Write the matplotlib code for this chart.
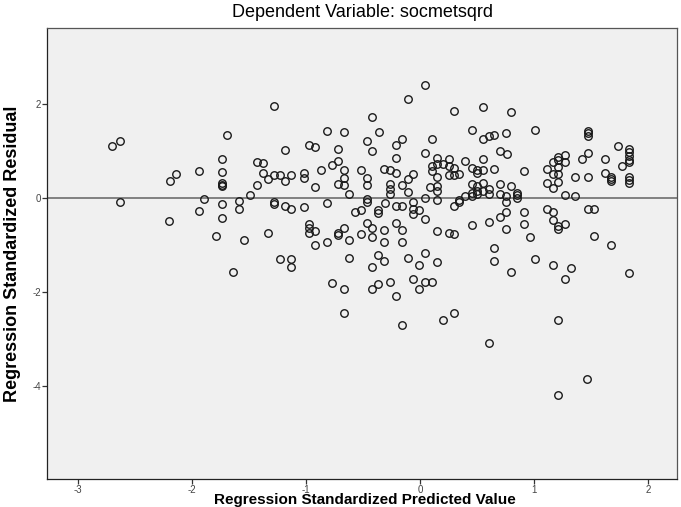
import matplotlib
matplotlib.use("Agg")
import matplotlib.pyplot as plt

# ── Data: standardized predicted value vs standardized residual ──────────
# left block (pred < -1)
pred_left = [-2.70, -2.63, -2.63, -2.19, -2.14, -2.20, -1.94, -1.89, -1.94,
             -1.74, -1.74, -1.74, -1.74, -1.74, -1.74, -1.74, -1.79, -1.69,
             -1.28, -1.59, -1.59, -1.49, -1.43, -1.43, -1.38, -1.38, -1.33,
             -1.28, -1.28, -1.28, -1.23, -1.18, -1.18, -1.18, -1.13, -1.13,
             -1.02, -1.02, -1.02, -1.33, -1.54, -1.23, -1.13, -1.13, -1.64]
resid_left = [1.12, 1.21, -0.08, 0.37, 0.51, -0.48, 0.58, -0.02, -0.27,
              0.83, 0.56, 0.33, 0.29, 0.25, -0.13, -0.42, -0.81, 1.35,
              1.97, -0.06, -0.22, 0.07, 0.28, 0.78, 0.74, 0.54, 0.40,
              0.49, -0.08, -0.13, 0.49, 1.02, 0.37, -0.16, 0.49, -0.22,
              0.54, 0.44, -0.18, -0.74, -0.89, -1.29, -1.29, -1.47, -1.56]

# middle block (-1 <= pred < 0.35)
pred_mid = [-0.97, -0.92, -0.92, -0.87, -0.82, -0.82, -0.77, -0.72, -0.72,
            -0.72, -0.97, -0.97, -0.97, -0.92, -0.72, -0.72, -0.82, -0.92,
            -0.77, 0.04, -0.11, 0.30, -0.42, -0.67, -0.36, -0.47, -0.16,
            -0.21, 0.10, -0.42, 0.04, -0.21, -0.67, -0.52, -0.32, -0.26,
            -0.21, 0.15, 0.10, 0.15, 0.20, 0.25, 0.25, 0.30, 0.25, 0.30,
            0.10, 0.15, -0.06, -0.11, -0.16, -0.47, -0.47, -0.67, -0.67,
            -0.26, -0.26, -0.26, -0.11, -0.62, 0.09, 0.15, 0.15, 0.04, 0.15,
            -0.47, -0.47, -0.31, -0.21, -0.16, -0.06, -0.06, -0.06, -0.01,
            0.30, 0.34, -0.57, -0.52, -0.37, -0.37, 0.04, -0.67, -0.47,
            -0.42, -0.52, -0.42, -0.32, -0.21, -0.16, 0.15, 0.25, 0.30,
            -0.62, -0.32, -0.16, -0.62, -0.37, -0.32, -0.42, -0.11, 0.04,
            -0.01, 0.15, -0.67, -0.42, -0.37, -0.26, -0.06, 0.04, 0.10,
            -0.01, -0.21, -0.67, -0.16, 0.20, 0.30, 0.34]
resid_mid = [1.14, 1.09, 0.23, 0.60, 1.42, -0.11, 0.70, 1.05, 0.79,
             0.30, -0.54, -0.63, -0.73, -0.69, -0.73, -0.78, -0.94, -0.99,
             -1.80, 2.41, 2.11, 1.86, 1.73, 1.40, 1.40, 1.21, 1.26,
             1.13, 1.26, 1.00, 0.97, 0.86, 0.61, 0.61, 0.63, 0.59,
             0.54, 0.86, 0.68, 0.73, 0.73, 0.84, 0.68, 0.65, 0.49, 0.49,
             0.58, 0.46, 0.51, 0.40, 0.28, 0.42, 0.28, 0.42, 0.28,
             0.30, 0.19, 0.08, 0.14, 0.08, 0.23, 0.26, 0.15, 0.01, -0.04,
             -0.02, -0.08, -0.11, -0.16, -0.16, -0.09, -0.23, -0.34, -0.25,
             -0.16, -0.04, -0.30, -0.25, -0.25, -0.32, -0.44, -0.63, -0.53,
             -0.64, -0.77, -0.83, -0.67, -0.53, -0.67, -0.69, -0.73, -0.77,
             -0.89, -0.92, -0.94, -1.28, -1.21, -1.33, -1.47, -1.28, -1.17,
             -1.42, -1.35, -1.93, -1.94, -1.83, -1.78, -1.71, -1.78, -1.78,
             -1.94, -2.07, -2.44, -2.70, -2.58, -2.44, 0.51]

# right block (pred >= 0.35)
pred_right = [0.55, 0.80, 0.45, 0.55, 0.60, 0.65, 0.75, 1.01, 0.70, 0.76,
              0.39, 0.55, 0.45, 0.50, 0.50, 0.55, 0.65, 0.91, 0.45, 0.50,
              0.55, 0.60, 0.50, 0.50, 0.45, 0.45, 0.55, 0.60, 0.70, 0.80,
              0.70, 0.75, 0.85, 0.85, 0.85, 0.39, 0.34, 0.75, 0.75, 0.70,
              0.91, 0.91, 0.60, 0.45, 0.75, 0.96, 1.11, 1.16, 1.21, 1.27,
              1.21, 1.27, 1.16, 1.21, 1.21, 1.11, 1.16, 1.21, 1.27, 1.36,
              1.36, 1.11, 1.16, 1.16, 1.21, 1.21, 1.27, 0.65, 0.65, 0.80,
              1.01, 1.16, 1.27, 1.32, 1.21, 0.60,
              1.47, 1.47, 1.47, 1.73, 1.83, 1.83, 1.83, 1.83, 1.83, 1.47,
              1.42, 1.62, 1.77, 1.47, 1.62, 1.67, 1.67, 1.67, 1.83, 1.83,
              1.83, 1.47, 1.52, 1.52, 1.67, 1.83, 1.46, 1.21]
resid_right = [1.94, 1.83, 1.46, 1.25, 1.33, 1.35, 1.38, 1.46, 1.00, 0.95,
               0.80, 0.84, 0.65, 0.60, 0.53, 0.61, 0.63, 0.57, 0.30, 0.26,
               0.33, 0.19, 0.15, 0.08, 0.12, 0.04, 0.15, 0.08, 0.30, 0.26,
               0.08, 0.05, 0.12, 0.06, 0.01, 0.05, -0.09, -0.08, -0.29, -0.40,
               -0.29, -0.55, -0.51, -0.57, -0.66, -0.83, 0.63, 0.76, 0.88, 0.91,
               0.81, 0.77, 0.52, 0.67, 0.52, 0.32, 0.21, 0.34, 0.07, 0.45,
               0.04, -0.23, -0.30, -0.46, -0.59, -0.66, -0.54, -1.06, -1.34, -1.57,
               -1.29, -1.43, -1.71, -1.48, -2.58, -3.07,
               1.42, 1.38, 1.32, 1.12, 1.05, 0.98, 0.90, 0.81, 0.76, 0.97,
               0.83, 0.83, 0.68, 0.46, 0.53, 0.46, 0.40, 0.37, 0.46, 0.39,
               0.32, -0.23, -0.23, -0.80, -0.99, -1.59, -3.85, -4.19]

x_ticks = [-3, -2, -1, 0, 1, 2]
y_ticks = [2, 0, -2, -4]

TITLE  = "Dependent Variable: socmetsqrd"
XLABEL = "Regression Standardized Predicted Value"
YLABEL = "Regression Standardized Residual"

plt.rcParams["font.family"] = ["Liberation Sans", "DejaVu Sans"]

fig = plt.figure(figsize=(6.81, 5.07), dpi=100)
ax = fig.add_axes([0.069, 0.0552, 0.925, 0.8896])
ax.set_facecolor("#f0f0f0")

ax.axhline(0, color="#808080", lw=1.4, zorder=1)

for px, ry in [(pred_left, resid_left), (pred_mid, resid_mid),
               (pred_right, resid_right)]:
    ax.plot(px, ry, ls="none", marker="o", ms=5.4, mfc="none",
            mec="#1a1a1a", mew=1.0, zorder=2)

ax.set_xlim(-3.27, 2.25)
ax.set_ylim(-5.97, 3.62)
ax.set_xticks(x_ticks)
ax.set_yticks(y_ticks)
ax.set_xticklabels([str(t) for t in x_ticks])
ax.set_yticklabels([str(t) for t in y_ticks])
ax.tick_params(direction="out", length=3.5, width=0.9, color="#333333",
               labelsize=7, labelcolor="#444444", pad=0.5)

for s in ax.spines.values():
    s.set_color("#555555")
    s.set_linewidth(0.9)
ax.spines["left"].set_color("#222222")
ax.spines["bottom"].set_color("#222222")

fig.text(0.532, 0.976, TITLE, ha="center", va="center", fontsize=13)
fig.text(0.536, 0.0, XLABEL, ha="center", va="bottom", fontsize=11,
         fontweight="bold")
fig.text(0.019, 0.50, YLABEL, ha="center", va="center", fontsize=13,
         fontweight="bold", rotation=90)

fig.savefig("out.png", dpi=100)
